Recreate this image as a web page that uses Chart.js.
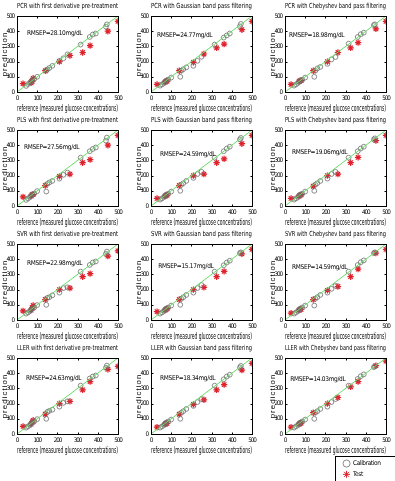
<!DOCTYPE html>
<html><head><meta charset="utf-8">
<script src="https://cdn.jsdelivr.net/npm/chart.js@4.4.1/dist/chart.umd.min.js"></script>
<style>
html,body{margin:0;padding:0;background:#fff;overflow:hidden;width:395px;height:481px;position:relative;}
canvas{position:absolute;}
</style></head><body>
<script>
// ---- data ----
const methods = ['PCR', 'PLS', 'SVR', 'LLER'];
const treatments = ['with first derivative pre-treatment', 'with Gaussian band pass filtering', 'with Chebyshev band pass filtering'];
const rmsepValues = ['28.10', '24.77', '18.98', '27.56', '24.59', '19.06', '22.98', '15.17', '14.59', '24.63', '18.34', '14.03'];
const axisTickValues = [0, 100, 200, 300, 400, 500];
const calibX = [45, 55, 65, 70, 75, 85, 100, 145, 150, 160, 175, 210, 230, 250, 315, 360, 375, 390, 440, 445];
const testX = [30, 70, 75, 80, 140, 210, 262, 325, 362, 450, 500];

const calibPCR = [
  [40, 52, 62, 70, 78, 85, 100, 140, 148, 158, 172, 205, 222, 248, 312, 362, 378, 385, 430, 445],
  [42, 50, 60, 68, 75, 82, 95, 100, 140, 150, 162, 172, 205, 232, 312, 358, 372, 385, 432, 448],
  [42, 50, 60, 68, 75, 80, 95, 100, 140, 155, 165, 185, 215, 230, 318, 362, 380, 390, 440, 445]
];
const testPCR = [
  [55, 60, 70, 90, 140, 200, 240, 260, 305, 400, 465],
  [50, 65, 70, 72, 140, 195, 250, 290, 315, 410, 465],
  [50, 70, 75, 75, 140, 200, 260, 290, 325, 415, 465]
];
const calibPLS = [
  [40, 50, 60, 68, 75, 82, 98, 95, 145, 155, 165, 180, 205, 220, 318, 360, 375, 385, 430, 450],
  [42, 50, 60, 68, 75, 80, 95, 100, 140, 150, 165, 185, 210, 225, 318, 360, 378, 390, 438, 448],
  [42, 50, 60, 68, 75, 80, 95, 100, 140, 150, 165, 180, 210, 225, 318, 360, 378, 390, 438, 445]
];
const testPLS = [
  [60, 65, 75, 75, 135, 195, 210, 285, 305, 400, 465],
  [50, 65, 70, 72, 135, 200, 210, 285, 310, 410, 465],
  [50, 65, 70, 75, 130, 200, 210, 285, 320, 430, 465]
];
const calibSVR = [
  [42, 50, 60, 68, 75, 82, 98, 100, 145, 150, 162, 180, 210, 215, 318, 362, 378, 385, 435, 450],
  [42, 50, 60, 68, 75, 82, 95, 100, 140, 150, 165, 180, 210, 230, 318, 360, 378, 390, 440, 445],
  [42, 50, 60, 68, 75, 82, 95, 95, 140, 150, 165, 180, 205, 225, 318, 362, 380, 392, 440, 445]
];
const testSVR = [
  [60, 65, 80, 95, 135, 200, 210, 285, 305, 420, 455],
  [55, 65, 70, 75, 135, 200, 215, 285, 320, 435, 465],
  [45, 65, 70, 70, 135, 195, 220, 285, 335, 440, 465]
];
const calibLLER = [
  [42, 50, 60, 68, 75, 82, 98, 100, 145, 152, 160, 180, 205, 215, 318, 365, 378, 385, 435, 450],
  [42, 50, 60, 68, 75, 82, 95, 100, 140, 150, 165, 185, 210, 230, 318, 360, 378, 390, 438, 448],
  [42, 50, 60, 68, 75, 82, 95, 100, 140, 150, 165, 180, 210, 230, 318, 362, 380, 392, 440, 445]
];
const testLLER = [
  [50, 65, 80, 90, 130, 200, 215, 290, 345, 425, 445],
  [45, 65, 70, 70, 130, 195, 225, 290, 325, 420, 465],
  [45, 65, 70, 72, 140, 200, 240, 310, 345, 450, 480]
];
// position (data units) of the RMSEP annotation in each panel
const rmsepPos = [[50, 383], [30, 376], [20, 376], [35, 383], [45, 338], [35, 356], [50, 373], [36, 351], [35, 347], [45, 366], [45, 364], [26, 360]];

// ---- style ----
const NARROW = "'DejaVu Sans Condensed', 'Liberation Sans Narrow', sans-serif";
const REGULAR = "'Liberation Sans', Arial, sans-serif";
const CAL_COLOR = '#6e6e6e';
const TEST_COLOR = '#e0202a';
const LINE_COLOR = '#66dd66';
const colLeft = [0, 134, 268];
const rowTop = [0, 114, 228, 342];
const CW = 128, CH = 114;

const calibAll = {PCR: calibPCR, PLS: calibPLS, SVR: calibSVR, LLER: calibLLER};
const testAll = {PCR: testPCR, PLS: testPLS, SVR: testSVR, LLER: testLLER};

const framePlugin = {
  id: 'frame',
  afterDatasetsDraw(chart, args, opts) {
    const {ctx, chartArea: a} = chart;
    const xs = chart.scales.x, ys = chart.scales.y;
    ctx.save();
    ctx.strokeStyle = '#000';
    ctx.lineWidth = 1;
    const L = Math.round(a.left) + 0.5, T = Math.round(a.top) + 0.5;
    const R = Math.round(a.right) + 0.5, B = Math.round(a.bottom) + 0.5;
    ctx.strokeRect(L, T, R - L, B - T);
    ctx.beginPath();
    xs.ticks.forEach(t => {
      const px = Math.round(xs.getPixelForValue(t.value)) + 0.5;
      ctx.moveTo(px, B); ctx.lineTo(px, B - 2);
      ctx.moveTo(px, T); ctx.lineTo(px, T + 2);
    });
    ys.ticks.forEach(t => {
      const py = Math.round(ys.getPixelForValue(t.value)) + 0.5;
      ctx.moveTo(L, py); ctx.lineTo(L + 2, py);
      ctx.moveTo(R, py); ctx.lineTo(R - 2, py);
    });
    ctx.stroke();
    if (opts.text) {
      ctx.fillStyle = '#000';
      ctx.font = '6.5px ' + NARROW;
      ctx.letterSpacing = '-0.3px';
      ctx.textAlign = 'left';
      ctx.textBaseline = 'middle';
      ctx.fillText(opts.text, xs.getPixelForValue(opts.pos[0]), ys.getPixelForValue(opts.pos[1]));
    }
    ctx.restore();
  }
};

function makeCanvas(left, top, w, h) {
  const c = document.createElement('canvas');
  c.width = w; c.height = h;
  c.style.left = left + 'px'; c.style.top = top + 'px';
  c.style.width = w + 'px'; c.style.height = h + 'px';
  document.body.appendChild(c);
  return c;
}

// tighten tick text and space out the rotated axis title like the original figure
function patchScale(s, tickSpacing, titleSpacing) {
  if (s._patched) return;
  s._patched = true;
  const proto = Object.getPrototypeOf(s);
  s.drawLabels = function (area) {
    const c = this.ctx; c.save(); c.letterSpacing = tickSpacing;
    proto.drawLabels.call(this, area); c.restore();
  };
  s.drawTitle = function () {
    const c = this.ctx; c.save(); c.letterSpacing = titleSpacing;
    proto.drawTitle.call(this); c.restore();
  };
}

function axisOpts(titleText, isX) {
  return {
    type: 'linear', min: 0, max: 500,
    beforeUpdate: s => patchScale(s, '-1.1px', isX ? '0px' : '1px'),
    afterBuildTicks: s => { s.ticks = axisTickValues.map(v => ({value: v})); },
    ticks: {font: {family: NARROW, size: 6.3}, color: '#000', padding: 3, maxRotation: 0, autoSkip: false},
    grid: {display: false, drawTicks: false},
    border: {display: false},
    title: {display: true, text: titleText, color: '#000', padding: 0,
      font: isX ? {family: NARROW, size: 9} : {family: REGULAR, size: 8}},
    afterFit: s => { if (isX) s.height = 22; else s.width = 17; }
  };
}

methods.forEach((m, r) => {
  treatments.forEach((tr, c) => {
    const idx = r * 3 + c;
    const cal = calibAll[m][c], tst = testAll[m][c];
    const canvas = makeCanvas(colLeft[c], rowTop[r], CW, CH);
    new Chart(canvas, {
      type: 'scatter',
      data: {
        datasets: [
          {type: 'line', label: 'y=x', data: [{x: 0, y: 0}, {x: 500, y: 500}], borderColor: LINE_COLOR, borderWidth: 1, pointRadius: 0, fill: false},
          {label: 'Calibration', data: calibX.map((x, i) => ({x, y: cal[i]})), pointStyle: 'circle', pointRadius: 2.4, borderColor: CAL_COLOR, backgroundColor: 'rgba(0,0,0,0)', borderWidth: 0.8},
          {label: 'Test', data: testX.map((x, i) => ({x, y: tst[i]})), pointStyle: 'star', pointRadius: 3.2, borderColor: TEST_COLOR, backgroundColor: TEST_COLOR, borderWidth: 1.2}
        ]
      },
      options: {
        responsive: false, animation: false, devicePixelRatio: 1,
        layout: {padding: {top: 0, right: 10, bottom: 0, left: 0}},
        plugins: {
          legend: {display: false},
          tooltip: {enabled: false},
          title: {display: true, text: m + ' ' + tr, fullSize: false, color: '#000',
            font: {family: NARROW, size: 7, weight: 'normal'}, padding: {top: 1.5, bottom: 6.1}},
          frame: {text: 'RMSEP=' + rmsepValues[idx] + 'mg/dL', pos: rmsepPos[idx]}
        },
        scales: {
          x: axisOpts('reference (measured glucose concentrations)', true),
          y: axisOpts('prediction', false)
        }
      },
      plugins: [framePlugin]
    });
  });
});

// ---- legend box ----
const legendBorder = {
  id: 'legendBorder',
  beforeDraw(chart) { chart.ctx.letterSpacing = '-0.4px'; },
  afterDraw(chart) {
    const ctx = chart.ctx;
    ctx.save();
    ctx.strokeStyle = '#000'; ctx.lineWidth = 1;
    ctx.strokeRect(0.5, 0.5, 100, 40);
    ctx.restore();
  }
};
const legCanvas = makeCanvas(335, 456, 130, 26);
new Chart(legCanvas, {
  type: 'scatter',
  data: {
    datasets: [
      {label: 'Calibration', data: [], pointStyle: 'circle', borderColor: CAL_COLOR, backgroundColor: 'rgba(0,0,0,0)', borderWidth: 0.8},
      {label: 'Test', data: [], pointStyle: 'star', borderColor: TEST_COLOR, backgroundColor: TEST_COLOR, borderWidth: 1}
    ]
  },
  options: {
    responsive: false, animation: false, devicePixelRatio: 1,
    layout: {padding: {left: 4, top: 0, right: 0, bottom: 0}},
    scales: {x: {display: false}, y: {display: false}},
    plugins: {
      tooltip: {enabled: false},
      legend: {position: 'left', align: 'start',
        labels: {usePointStyle: true, boxWidth: 7, boxHeight: 5, padding: 4.3, color: '#000',
          font: {family: NARROW, size: 6.5}}}
    }
  },
  plugins: [legendBorder]
});
</script>
</body></html>
